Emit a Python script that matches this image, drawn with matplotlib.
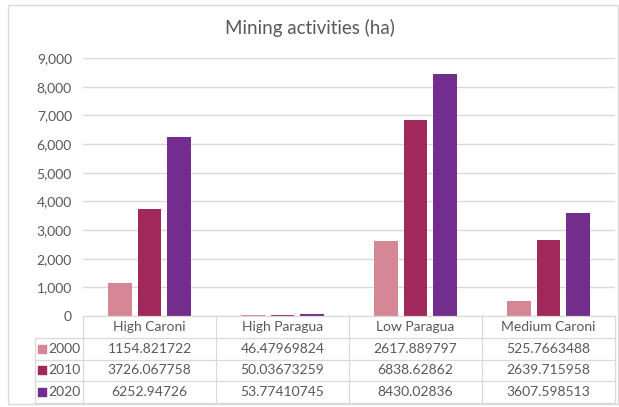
## mining activities bar chart with data table underneath (excel style)
import matplotlib
matplotlib.use('Agg')
import matplotlib.pyplot as plt
from matplotlib.patches import Rectangle

plt.rcParams['font.family'] = ['Lato', 'DejaVu Sans']

regions = ['High Caroni', 'High Paragua', 'Low Paragua', 'Medium Caroni']
years = ['2000', '2010', '2020']
ha_2000 = [1154.821722, 46.47969824, 2617.889797, 525.7663488]
ha_2010 = [3726.067758, 50.03673259, 6838.62862, 2639.715958]
ha_2020 = [6252.94726, 53.77410745, 8430.02836, 3607.598513]
cell_text = [['1154.821722', '46.47969824', '2617.889797', '525.7663488'],
             ['3726.067758', '50.03673259', '6838.62862', '2639.715958'],
             ['6252.94726', '53.77410745', '8430.02836', '3607.598513']]
yticks = [0, 1000, 2000, 3000, 4000, 5000, 6000, 7000, 8000, 9000]

colours = ['#D68796', '#A0285A', '#732D8C']
txtcol = '#595959'
gridcol = '#D9D9D9'

W, H = 619, 407
fig = plt.figure(figsize=(W/100, H/100), dpi=100)
fig.patch.set_facecolor('white')

# outer chart border
fig.patches.append(Rectangle((8/W, 1-404/H), 610/W, 399/H, transform=fig.transFigure,
                             facecolor='none', edgecolor=gridcol, linewidth=1))

# plot area
left, right, top, bottom = 83, 615, 58, 316
ax = fig.add_axes([left/W, 1-bottom/H, (right-left)/W, (bottom-top)/H])
series = [ha_2000, ha_2010, ha_2020]
offsets = [-0.22, 0, 0.22]
for s, off, c in zip(series, offsets, colours):
    ax.bar([i+off for i in range(len(regions))], s, width=0.18, color=c, zorder=3)

ax.set_xlim(-0.5, len(regions)-0.5)
ax.set_ylim(0, 9000)
ax.set_yticks(yticks)
ax.set_yticklabels(['{:,}'.format(v) for v in yticks], color=txtcol, fontsize=10)
ax.tick_params(axis='y', length=0, pad=8)
ax.set_xticks([])
ax.grid(axis='y', color=gridcol, linewidth=1, zorder=0)
for sp in ax.spines.values():
    sp.set_visible(False)
ax.patch.set_alpha(0)

fig.text(0.5, 1-28/H, 'Mining activities (ha)', ha='center', va='center',
         fontsize=13.5, color=txtcol)

# data table
tleft, tbottom = 35, 403
ax2 = fig.add_axes([tleft/W, 1-tbottom/H, (right-tleft)/W, (tbottom-bottom)/H])
lab_w = (left-tleft)/((right-left)/len(regions))
ax2.set_xlim(-0.5-lab_w, len(regions)-0.5)
ax2.set_ylim(4, 0)
ax2.axis('off')

lw = 0.9
# horizontal lines
ax2.plot([-0.5, len(regions)-0.5], [0, 0], color=gridcol, lw=lw, clip_on=False)
for r in range(1, 5):
    ax2.plot([-0.5-lab_w, len(regions)-0.5], [r, r], color=gridcol, lw=lw, clip_on=False)
# vertical lines
for k in range(len(regions)+1):
    ax2.plot([k-0.5, k-0.5], [0, 4], color=gridcol, lw=lw, clip_on=False)
ax2.plot([-0.5-lab_w, -0.5-lab_w], [1, 4], color=gridcol, lw=lw, clip_on=False)

for i, reg in enumerate(regions):
    ax2.text(i, 0.5, reg, ha='center', va='center', fontsize=10, color=txtcol)
for r, yr in enumerate(years):
    ax2.text(-0.5-lab_w+0.1, r+1.5, yr, ha='left', va='center', fontsize=10, color=txtcol)
    ax2.scatter([-0.5-lab_w+0.055], [r+1.5], marker='s', s=26, color=colours[r], clip_on=False)
    for i in range(len(regions)):
        ax2.text(i, r+1.5, cell_text[r][i], ha='center', va='center', fontsize=10, color=txtcol)

fig.savefig('out.png', dpi=100)
